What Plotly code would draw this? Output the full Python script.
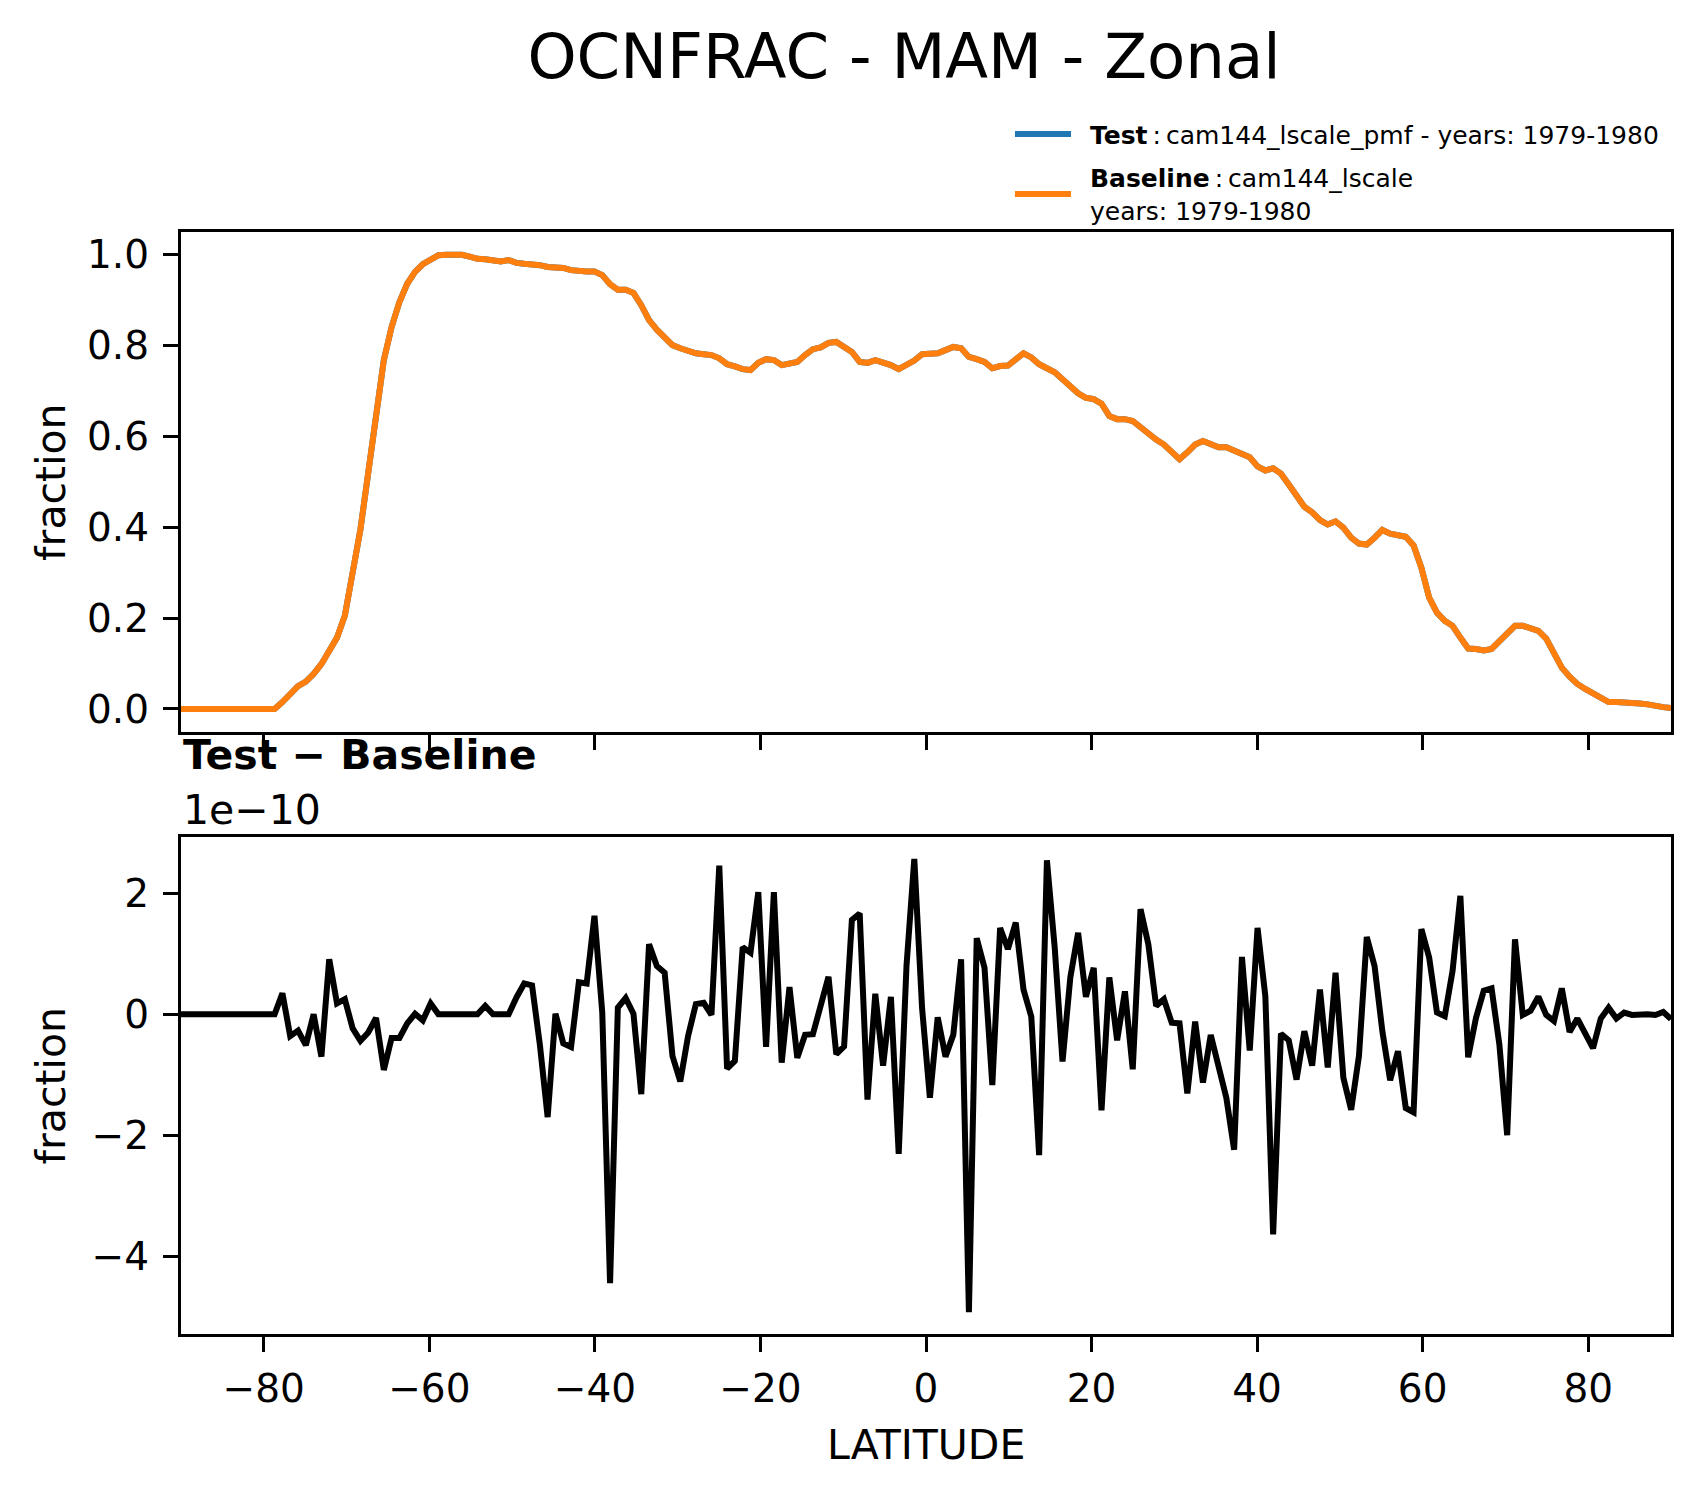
import numpy as np
import plotly.graph_objects as go

# ------------------------------------------------------------
# data: zonal mean OCNFRAC, MAM, 192 latitudes (f09 grid)
# ------------------------------------------------------------
lat = np.linspace(-90, 90, 192)

baseline = [
    0.0, 0.0, 0.0, 0.0, 0.0, 0.0, 0.0, 0.0, 0.0, 0.0,
    0.0, 0.0, 0.0, 0.015, 0.035, 0.05, 0.06, 0.077, 0.099, 0.128,
    0.157, 0.205, 0.293, 0.395, 0.52, 0.644, 0.768, 0.841, 0.896, 0.936,
    0.962, 0.979, 0.991, 0.999, 1.0, 1.0, 1.0, 0.996, 0.991, 0.99,
    0.988, 0.985, 0.988, 0.982, 0.980, 0.98, 0.977, 0.973, 0.973, 0.971,
    0.966, 0.963, 0.963, 0.963, 0.955, 0.935, 0.923, 0.923, 0.916, 0.889,
    0.856, 0.835, 0.816, 0.801, 0.794, 0.788, 0.783, 0.781, 0.779, 0.772,
    0.759, 0.754, 0.748, 0.746, 0.762, 0.770, 0.768, 0.757, 0.759, 0.764,
    0.779, 0.792, 0.796, 0.806, 0.808, 0.796, 0.786, 0.764, 0.762, 0.768,
    0.764, 0.757, 0.748, 0.757, 0.767, 0.781, 0.783, 0.783, 0.790, 0.797,
    0.794, 0.775, 0.770, 0.764, 0.750, 0.755, 0.756, 0.768, 0.783, 0.774,
    0.759, 0.750, 0.741, 0.726, 0.711, 0.695, 0.685, 0.682, 0.672, 0.645,
    0.638, 0.638, 0.634, 0.620, 0.604, 0.593, 0.582, 0.565, 0.550, 0.565,
    0.582, 0.590, 0.584, 0.576, 0.576, 0.569, 0.563, 0.554, 0.534, 0.525,
    0.530, 0.518, 0.494, 0.468, 0.445, 0.433, 0.416, 0.406, 0.413, 0.399,
    0.377, 0.364, 0.362, 0.377, 0.394, 0.386, 0.384, 0.379, 0.360, 0.311,
    0.245, 0.212, 0.194, 0.183, 0.157, 0.133, 0.132, 0.129, 0.132, 0.150,
    0.168, 0.183, 0.183, 0.179, 0.172, 0.155, 0.124, 0.091, 0.071, 0.055,
    0.044, 0.035, 0.023, 0.015, 0.015, 0.015, 0.015, 0.012, 0.010, 0.006,
    0.004, 0.002,
]

# test - baseline, in units of 1e-10
diff_e10 = [
    0.0, 0.0, 0.0, 0.0, 0.0, 0.0, 0.0, 0.0, 0.0, 0.0,
    0.0, 0.0, 0.0, 0.35, -0.36, -0.27, -0.51, 0.0, -0.70, 0.91,
    0.18, 0.25, -0.23, -0.44, -0.30, -0.06, -0.92, -0.39, -0.39, -0.15,
    0.01, -0.10, 0.18, 0.0, 0.0, 0.0, 0.0, 0.0, 0.0, 0.14,
    0.0, 0.0, 0.0, 0.28, 0.51, 0.48, -0.5, -1.70, 0.01, -0.48,
    -0.54, 0.53, 0.51, 1.63, 0.03, -4.45, 0.11, 0.27, 0.01, -1.32,
    1.16, 0.80, 0.69, -0.69, -1.11, -0.36, 0.17, 0.19, -0.01, 2.46,
    -0.90, -0.77, 1.11, 1.02, 2.02, -0.54, 2.02, -0.80, 0.45, -0.72,
    -0.34, -0.33, 0.15, 0.62, -0.66, -0.53, 1.56, 1.67, -1.41, 0.34,
    -0.85, 0.29, -2.31, 0.8, 2.57, 0.1, -1.38, -0.05, -0.70, -0.34,
    0.91, -4.93, 1.26, 0.77, -1.17, 1.43, 1.08, 1.52, 0.41, -0.04,
    -2.33, 2.55, 1.1, -0.78, 0.61, 1.35, 0.29, 0.77, -1.59, 0.61,
    -0.43, 0.38, -0.91, 1.74, 1.16, 0.14, 0.25, -0.14, -0.15, -1.31,
    -0.12, -1.13, -0.34, -0.86, -1.38, -2.24, 0.95, -0.60, 1.43, 0.30,
    -3.64, -0.32, -0.43, -1.08, -0.28, -0.85, 0.41, -0.88, 0.69, -1.05,
    -1.58, -0.69, 1.28, 0.80, -0.28, -1.09, -0.61, -1.55, -1.62, 1.41,
    0.94, 0.03, -0.03, 0.72, 1.96, -0.71, -0.06, 0.39, 0.43, -0.50,
    -2.0, 1.24, -0.01, 0.06, 0.29, -0.01, -0.11, 0.43, -0.29, -0.07,
    -0.30, -0.56, -0.07, 0.11, -0.07, 0.03, -0.01, 0.0, 0.0, -0.01,
    0.04, -0.08,
]

test = np.array(baseline) + np.array(diff_e10) * 1e-10

x_ticks = [-80, -60, -40, -20, 0, 20, 40, 60, 80]
top_ticks = [0.0, 0.2, 0.4, 0.6, 0.8, 1.0]
diff_ticks = [-4, -2, 0, 2]

test_label = "<b>Test</b>\u2009:\u2009cam144_lscale_pmf - years: 1979-1980"
base_label = "<b>Baseline</b>\u2009:\u2009cam144_lscale<br>years: 1979-1980"

BLUE = "#1f77b4"
ORANGE = "#ff7f0e"
FONT = "DejaVu Sans"

# ------------------------------------------------------------
# figure
# ------------------------------------------------------------
fig = go.Figure()

fig.add_trace(go.Scatter(x=lat, y=test, mode="lines", name="Test",
                         line=dict(color=BLUE, width=6),
                         xaxis="x", yaxis="y"))
fig.add_trace(go.Scatter(x=lat, y=baseline, mode="lines", name="Baseline",
                         line=dict(color=ORANGE, width=6),
                         xaxis="x", yaxis="y"))
fig.add_trace(go.Scatter(x=lat, y=diff_e10, mode="lines", name="Test - Baseline",
                         line=dict(color="black", width=6),
                         xaxis="x2", yaxis="y2"))

axis_style = dict(
    showline=True, mirror=True, linecolor="black", linewidth=3.3,
    ticks="outside", ticklen=15, tickwidth=3.3, tickcolor="black",
    showgrid=False, zeroline=False,
    tickfont=dict(family=FONT, size=39, color="black"),
)

fig.update_layout(
    width=1700, height=1496,
    margin=dict(l=181, r=29, t=232, b=162),
    paper_bgcolor="white", plot_bgcolor="white",
    showlegend=False,
    font=dict(family=FONT, color="black"),
    title=dict(text="OCNFRAC - MAM - Zonal", font=dict(family=FONT, size=62.5),
               x=904 / 1700, y=1 - 56 / 1496, xanchor="center", yanchor="middle"),
    xaxis=dict(axis_style, range=[-90, 90], tickvals=x_ticks,
               showticklabels=False, anchor="y", domain=[0, 1]),
    yaxis=dict(axis_style, range=[-0.05, 1.05], tickvals=top_ticks,
               tickformat=".1f", anchor="x", domain=[0.5466, 1],
               ticklabelstandoff=6),
    xaxis2=dict(axis_style, range=[-90, 90], tickvals=x_ticks,
                anchor="y2", domain=[0, 1], ticklabelstandoff=3),
    yaxis2=dict(axis_style, range=[-5.29, 2.94], tickvals=diff_ticks,
                anchor="x2", domain=[0, 0.4513], ticklabelstandoff=6),
)

# ------------------------------------------------------------
# texts: axis labels, subplot title, offset
# ------------------------------------------------------------
txt = dict(family=FONT, size=41, color="black")
centered = dict(xref="paper", yref="paper", xanchor="center", yanchor="middle",
                showarrow=False, font=txt)
fig.add_annotation(text="fraction", x=-0.0872, y=0.7733, textangle=-90, **centered)
fig.add_annotation(text="fraction", x=-0.0872, y=0.2256, textangle=-90, **centered)
fig.add_annotation(text="LATITUDE", x=0.5, y=-0.1007, **centered)
fig.add_annotation(text="<b>Test \u2212 Baseline</b>", xref="paper", yref="paper",
                   x=0, y=0.5253, xanchor="left", yanchor="middle",
                   showarrow=False, font=txt)
fig.add_annotation(text="1e\u221210", xref="paper", yref="paper",
                   x=0, y=0.4754, xanchor="left", yanchor="middle",
                   showarrow=False, font=txt)

# ------------------------------------------------------------
# legend (drawn by hand above the top panel)
# ------------------------------------------------------------
leg = dict(family=FONT, size=25, color="black")
for yy, col in [(1.0889, BLUE), (1.0345, ORANGE)]:
    fig.add_shape(type="line", xref="paper", yref="paper",
                  x0=0.5597, x1=0.5973, y0=yy, y1=yy,
                  line=dict(color=col, width=6))
fig.add_annotation(text=test_label, xref="paper", yref="paper", x=0.6085, y=1.0880,
                   xanchor="left", yanchor="middle", align="left",
                   showarrow=False, font=leg)
fig.add_annotation(text=base_label, xref="paper", yref="paper", x=0.6085, y=1.0335,
                   xanchor="left", yanchor="middle", align="left",
                   showarrow=False, font=leg)

fig.write_html("out.html", config={"displayModeBar": False},
               post_script="document.body.style.margin='0';")
